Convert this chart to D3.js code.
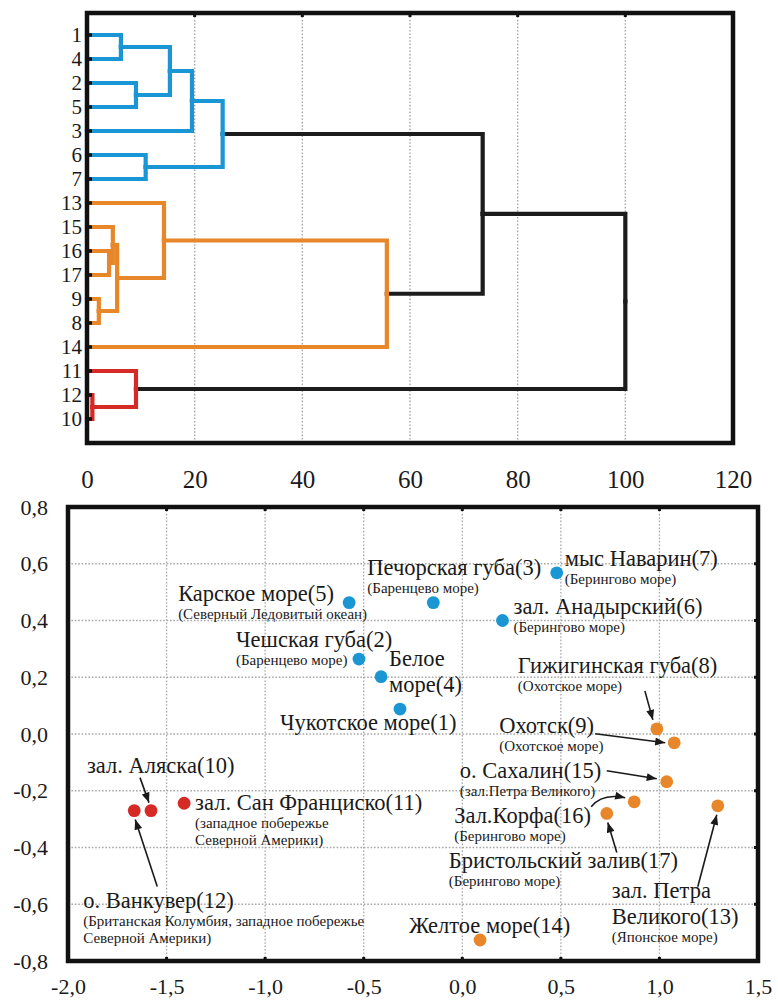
<!DOCTYPE html>
<html>
<head>
<meta charset="utf-8">
<script src="https://cdn.jsdelivr.net/npm/d3@7"></script>
<style>
  body { margin: 0; background: #fff; }
  svg { display: block; }
  svg text { font-family: 'Liberation Serif', 'DejaVu Serif', serif; fill: #1a1a1a; }
</style>
</head>
<body>
<svg id="chart" width="778" height="1001"></svg>
<script>
// ---------- Dendrogram data ----------
const leafOrder = ["1", "4", "2", "5", "3", "6", "7", "13", "15", "16", "17", "9", "8", "14", "11", "12", "10"];
const leafCluster = {
  "1": "A", "2": "A", "3": "A", "4": "A", "5": "A", "6": "A", "7": "A",
  "8": "B", "9": "B", "13": "B", "14": "B", "15": "B", "16": "B", "17": "B",
  "10": "C", "11": "C", "12": "C"
};
// [merge id, first child, second child, linkage distance]
const merges = [
  ["m1", "1", "4", 6.3],
  ["m2", "2", "5", 9.1],
  ["m3", "m1", "m2", 15.4],
  ["m4", "m3", "3", 19.5],
  ["m5", "6", "7", 10.9],
  ["m6", "m4", "m5", 25.2],
  ["m7", "16", "17", 4.1],
  ["m8", "15", "m7", 4.8],
  ["m9", "9", "8", 2.2],
  ["m10", "m8", "m9", 5.6],
  ["m11", "13", "m10", 14.3],
  ["m12", "m11", "14", 55.7],
  ["m13", "12", "10", 1.0],
  ["m14", "11", "m13", 9.1],
  ["m15", "m6", "m12", 73.5],
  ["m16", "m15", "m14", 100]
];
const mergeCluster = {
  m1: "A", m2: "A", m3: "A", m4: "A", m5: "A", m6: "A",
  m7: "B", m8: "B", m9: "B", m10: "B", m11: "B", m12: "B",
  m13: "C", m14: "C", m15: "root", m16: "root"
};
const distTicks = [0, 20, 40, 60, 80, 100, 120];

// ---------- Ordination data ----------
const siteIds = [1, 2, 3, 4, 5, 6, 7, 8, 9, 10, 11, 12, 13, 14, 15, 16, 17];
const siteNames = [
  "Чукотское море(1)",
  "Чешская губа(2)",
  "Печорская губа(3)",
  "Белое\nморе(4)",
  "Карское море(5)",
  "зал. Анадырский(6)",
  "мыс Наварин(7)",
  "Гижигинская губа(8)",
  "Охотск(9)",
  "зал. Аляска(10)",
  "зал. Сан Франциско(11)",
  "о. Ванкувер(12)",
  "зал. Петра\nВеликого(13)",
  "Желтое море(14)",
  "о. Сахалин(15)",
  "Зал.Корфа(16)",
  "Бристольский залив(17)"
];
const siteSeas = [
  "",
  "(Баренцево море)",
  "(Баренцево море)",
  "",
  "(Северный Ледовитый океан)",
  "(Берингово море)",
  "(Берингово море)",
  "(Охотское море)",
  "(Охотское море)",
  "",
  "(западное побережье\nСеверной Америки)",
  "(Британская Колумбия, западное побережье\nСеверной Америки)",
  "(Японское море)",
  "",
  "(зал.Петра Великого)",
  "(Берингово море)",
  "(Берингово море)"
];
const siteX = [-0.316, -0.524, -0.147, -0.412, -0.574, 0.204, 0.479, 0.987, 1.075, -1.579, -1.411, -1.664, 1.296, 0.090, 1.037, 0.872, 0.733];
const siteY = [0.088, 0.264, 0.463, 0.202, 0.463, 0.400, 0.568, 0.018, -0.031, -0.270, -0.244, -0.270, -0.253, -0.726, -0.168, -0.239, -0.280];
const siteCluster = ["A", "A", "A", "A", "A", "A", "A", "B", "B", "C", "C", "C", "B", "B", "B", "B", "B"];
const xTicks = [-2.0, -1.5, -1.0, -0.5, 0.0, 0.5, 1.0, 1.5];
const yTicks = [-0.8, -0.6, -0.4, -0.2, 0.0, 0.2, 0.4, 0.6, 0.8];

// ---------- Styling ----------
const FONT = "'Liberation Serif', 'DejaVu Serif', serif";
const clusterColor = { A: "#1a96d4", B: "#e8862a", C: "#d62a26", root: "#1c1c1c" };
const gridColor = "#a8a8a8";
const fmtComma = d => d3.format(".1f")(d).replace(".", ",").replace("\u2212", "-");

const svg = d3.select("#chart").attr("font-family", FONT);
svg.append("rect").attr("width", 778).attr("height", 1001).attr("fill", "#fff");

const defs = svg.append("defs");
defs.append("marker")
  .attr("id", "arrowhead")
  .attr("viewBox", "0 0 10 8")
  .attr("refX", 10).attr("refY", 4)
  .attr("markerWidth", 11).attr("markerHeight", 8)
  .attr("markerUnits", "userSpaceOnUse")
  .attr("orient", "auto")
  .append("path").attr("d", "M0,0 L10,4 L0,8 Z").attr("fill", "#1a1a1a");

// =============== Dendrogram ===============
const dBox = { left: 87, right: 733, top: 13, bottom: 443 };
const dx = d3.scaleLinear().domain([0, 120]).range([dBox.left, dBox.right]);
const dy = d3.scalePoint().domain(leafOrder).range([35, 419]);

// build nested tree from merges
const nodes = {};
leafOrder.forEach(id => { nodes[id] = { id, dist: 0, cluster: leafCluster[id] }; });
merges.forEach(([id, a, b, h]) => {
  nodes[id] = { id, dist: h, cluster: mergeCluster[id], children: [nodes[a], nodes[b]] };
});
const root = d3.hierarchy(nodes[merges[merges.length - 1][0]]);
root.eachAfter(n => {
  n.py = n.children ? d3.mean(n.children, c => c.py) : dy(n.data.id);
  n.px = dx(n.data.dist);
});

const dend = svg.append("g");

// vertical dotted grid
dend.append("g").selectAll("line")
  .data(distTicks.filter(t => t > 0 && t < 120))
  .join("line")
  .attr("x1", d => dx(d)).attr("x2", d => dx(d))
  .attr("y1", dBox.top).attr("y2", dBox.bottom)
  .attr("stroke", gridColor).attr("stroke-width", 1.4)
  .attr("stroke-dasharray", "1.6,1.8");

// links
dend.append("g").selectAll("path")
  .data(root.links())
  .join("path")
  .attr("d", l => `M${l.target.px},${l.target.py}H${l.source.px}V${l.source.py}`)
  .attr("fill", "none")
  .attr("stroke", l => clusterColor[l.source.data.cluster])
  .attr("stroke-width", 4.2)
  .attr("stroke-linecap", "square")
  .attr("stroke-linejoin", "miter");

// frame
dend.append("rect")
  .attr("x", dBox.left).attr("y", dBox.top)
  .attr("width", dBox.right - dBox.left).attr("height", dBox.bottom - dBox.top)
  .attr("fill", "none").attr("stroke", "#111").attr("stroke-width", 4.5);

// tick marks on frame
dend.append("g").selectAll("line")
  .data(leafOrder)
  .join("line")
  .attr("x1", dBox.left).attr("x2", dBox.left + 5)
  .attr("y1", d => dy(d)).attr("y2", d => dy(d))
  .attr("stroke", "#111").attr("stroke-width", 3.5);
dend.append("g").selectAll("line")
  .data(distTicks.filter(t => t > 0 && t < 120))
  .join("line")
  .attr("x1", d => dx(d)).attr("x2", d => dx(d))
  .attr("y1", dBox.top).attr("y2", dBox.top + 4)
  .attr("stroke", "#111").attr("stroke-width", 3);

// leaf labels
dend.append("g").selectAll("text")
  .data(leafOrder)
  .join("text")
  .attr("x", dBox.left - 5)
  .attr("y", d => dy(d))
  .attr("dy", "0.34em")
  .attr("text-anchor", "end")
  .attr("font-family", FONT)
  .attr("font-size", 21)
  .text(d => d);

// distance axis labels
const dAxis = dend.append("g")
  .attr("transform", "translate(0,470)")
  .call(d3.axisBottom(dx).tickValues(distTicks).tickSize(0).tickPadding(0).tickFormat(d3.format("d")));
dAxis.attr("font-family", FONT);
dAxis.select(".domain").remove();
dAxis.selectAll("text").attr("font-size", 25).attr("font-family", FONT).attr("fill", "#1a1a1a");

// =============== Ordination plot ===============
const sBox = { left: 68, right: 758, top: 507, bottom: 961 };
const sx = d3.scaleLinear().domain([-2, 1.5]).range([sBox.left, sBox.right]);
const sy = d3.scaleLinear().domain([-0.8, 0.8]).range([sBox.bottom, sBox.top]);

const sc = svg.append("g");

// dotted grid
sc.append("g").selectAll("line")
  .data(xTicks.slice(1, -1))
  .join("line")
  .attr("x1", d => sx(d)).attr("x2", d => sx(d))
  .attr("y1", sBox.top).attr("y2", sBox.bottom)
  .attr("stroke", gridColor).attr("stroke-width", 1.3)
  .attr("stroke-dasharray", "1.6,1.8");
sc.append("g").selectAll("line")
  .data(yTicks.slice(1, -1))
  .join("line")
  .attr("y1", d => sy(d)).attr("y2", d => sy(d))
  .attr("x1", sBox.left).attr("x2", sBox.right)
  .attr("stroke", gridColor).attr("stroke-width", 1.3)
  .attr("stroke-dasharray", "1.6,1.8");

// frame
sc.append("rect")
  .attr("x", sBox.left).attr("y", sBox.top)
  .attr("width", sBox.right - sBox.left).attr("height", sBox.bottom - sBox.top)
  .attr("fill", "none").attr("stroke", "#111").attr("stroke-width", 4.5);

// frame ticks: top and bottom at x grid, right at y grid
const tickG = sc.append("g").attr("stroke", "#111").attr("stroke-width", 3);
xTicks.slice(1, -1).forEach(t => {
  tickG.append("line").attr("x1", sx(t)).attr("x2", sx(t)).attr("y1", sBox.top).attr("y2", sBox.top + 4);
  tickG.append("line").attr("x1", sx(t)).attr("x2", sx(t)).attr("y1", sBox.bottom).attr("y2", sBox.bottom - 4);
});
yTicks.slice(1, -1).forEach(t => {
  tickG.append("line").attr("y1", sy(t)).attr("y2", sy(t)).attr("x1", sBox.right).attr("x2", sBox.right - 4);
});

// axes labels
const sxAxis = sc.append("g")
  .attr("transform", "translate(0,978)")
  .call(d3.axisBottom(sx).tickValues(xTicks).tickSize(0).tickPadding(0).tickFormat(fmtComma));
sxAxis.attr("font-family", FONT);
sxAxis.select(".domain").remove();
sxAxis.selectAll("text").attr("font-size", 22).attr("font-family", FONT).attr("fill", "#1a1a1a");

const syAxis = sc.append("g")
  .attr("transform", "translate(48,0)")
  .call(d3.axisLeft(sy).tickValues(yTicks).tickSize(0).tickPadding(0).tickFormat(fmtComma));
syAxis.attr("font-family", FONT);
syAxis.select(".domain").remove();
syAxis.selectAll("text").attr("font-size", 22).attr("font-family", FONT).attr("fill", "#1a1a1a");

// label placement (pixel offsets of the first baseline from the point)
const labelOffset = {
  1: [-120, 21], 2: [-123, -12], 3: [-66, -28], 4: [8, -11], 5: [-171, -2],
  6: [11, -7], 7: [8, -7], 8: [-139, -56], 9: [-175, -10], 10: [-64, -38],
  11: [11, 7], 12: [-51, 97], 13: [-106, 92], 14: [-71, -7], 15: [-207, -4],
  16: [-180, 21], 17: [-158, 55]
};
// leader arrows: [from dx, from dy, to dx, to dy, optional curve control dx, dy]
const arrowOffsets = {
  10: [-11, -33, -2, -8],
  12: [23, 76, 1, 9],
  8: [-12, -38, -4, -9],
  9: [-79, -9, -9, 0],
  15: [-60, -11, -10, -3],
  16: [-43, 5, -9, -4, -32, -9],
  17: [10, 39, 1, 9],
  13: [-20, 81, -1, 9]
};

const sites = siteIds.map((id, i) => ({
  id, name: siteNames[i], sea: siteSeas[i],
  x: siteX[i], y: siteY[i], cluster: siteCluster[i]
}));

// arrows
const arrowG = sc.append("g");
sites.filter(s => arrowOffsets[s.id]).forEach(s => {
  const [fx, fy, tx, ty, cx, cy] = arrowOffsets[s.id];
  const px = sx(s.x), py = sy(s.y);
  const d = cx !== undefined
    ? `M${px + fx},${py + fy}Q${px + cx},${py + cy} ${px + tx},${py + ty}`
    : `M${px + fx},${py + fy}L${px + tx},${py + ty}`;
  arrowG.append("path")
    .attr("d", d)
    .attr("fill", "none")
    .attr("stroke", "#1a1a1a")
    .attr("stroke-width", 1.6)
    .attr("marker-end", "url(#arrowhead)");
});

// points
sc.append("g").selectAll("circle")
  .data(sites)
  .join("circle")
  .attr("cx", d => sx(d.x))
  .attr("cy", d => sy(d.y))
  .attr("r", 6.4)
  .attr("fill", d => clusterColor[d.cluster]);

// labels
const labelG = sc.append("g").attr("font-family", FONT);
sites.forEach(s => {
  const [ox, oy] = labelOffset[s.id];
  const x0 = sx(s.x) + ox;
  const y0 = sy(s.y) + oy;
  const t = labelG.append("text").attr("x", x0).attr("y", y0).attr("font-family", FONT);
  s.name.split("\n").forEach((line, k) => {
    t.append("tspan").attr("x", x0).attr("dy", k === 0 ? 0 : 26)
      .attr("font-size", 22.5).text(line);
  });
  if (s.sea) {
    s.sea.split("\n").forEach((line, k) => {
      t.append("tspan").attr("x", x0).attr("dy", k === 0 ? 18 : 17)
        .attr("font-size", 15).text(line);
    });
  }
});
</script>
</body>
</html>
